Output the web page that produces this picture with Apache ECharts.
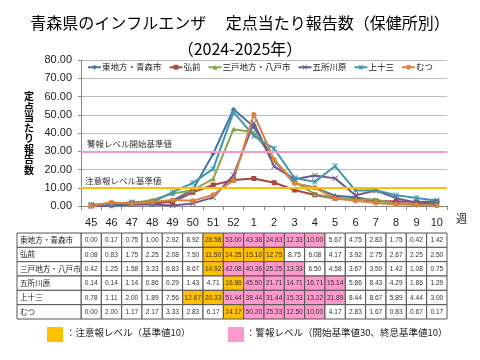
<!DOCTYPE html>
<html><head><meta charset="utf-8">
<script src="https://cdn.jsdelivr.net/npm/echarts@6/dist/echarts.min.js"></script>
<style>html,body{margin:0;padding:0;background:#fff}#c{width:480px;height:360px}</style>
</head><body><div id="c"></div>
<script>
const weeks = ['45','46','47','48','49','50','51','52','1','2','3','4','5','6','7','8','9','10'];
const names = ['東地方・青森市','弘前','三戸地方・八戸市','五所川原','上十三','むつ'];
const higashi = [0.00,0.17,0.75,1.00,2.92,8.92,28.58,53.00,43.38,24.83,12.33,10.00,5.67,4.75,2.83,1.75,0.42,1.42];
const hirosaki = [0.08,0.83,1.75,2.25,2.08,7.50,11.50,14.25,15.10,12.75,8.75,6.08,4.17,3.92,2.75,2.67,2.25,2.50];
const sannohe = [0.42,1.25,1.58,3.33,6.83,8.67,14.92,42.08,40.36,25.25,13.33,6.50,4.58,3.67,3.50,1.42,1.08,0.75];
const goshogawara = [0.14,0.14,1.14,0.86,0.29,1.43,4.71,16.86,45.50,21.71,14.71,16.71,15.14,5.86,8.43,4.29,1.86,1.29];
const kamitosan = [0.78,1.11,2.00,1.89,7.56,12.67,20.33,51.44,38.44,31.44,15.33,13.22,21.89,8.44,8.67,5.89,4.44,3.00];
const mutsu = [0.00,2.00,1.17,2.17,3.33,2.83,6.17,14.17,50.20,25.33,12.50,10.00,4.17,2.83,1.67,0.83,0.67,0.17];
const alarmStart = 30, alarmEnd = 10, caution = 10;

const seriesData = [higashi, hirosaki, sannohe, goshogawara, kamitosan, mutsu];
const colors = ['#4572A7','#AA4643','#89A54E','#71588F','#4198AF','#DB843D'];
const symbols = ['diamond','rect','triangle',
  'path://M1,0L5,4L9,0L10,1L6,5L10,9L9,10L5,6L1,10L0,9L4,5L0,1Z',
  'path://M1,0L5,4L9,0L10,1L6,5L10,9L9,10L5,6L1,10L0,9L4,5L0,1ZM4.4,0H5.6V10H4.4Z',
  'circle'];
const ORANGE = '#FFC000', PINK = '#FF99CC';

// status per cell: 0 none, 1 caution, 2 alarm
function statusOf(arr){
  let alarm = false;
  return arr.map(v => {
    if (!alarm && v >= alarmStart) alarm = true;
    else if (alarm && v < alarmEnd) alarm = false;
    if (alarm) return 2;
    return v >= caution ? 1 : 0;
  });
}
const tableData = [];
seriesData.forEach((arr, r) => {
  const st = statusOf(arr);
  arr.forEach((v, c) => tableData.push([c, r, v, st[c]]));
});

const headerW = 64;
const chart = echarts.init(document.getElementById('c'));
const lineSeries = names.map((n, i) => ({
  name: n, type: 'line', xAxisIndex: 0, yAxisIndex: 0,
  data: seriesData[i], symbol: symbols[i], symbolSize: i===3||i===4 ? 6 : 5,
  lineStyle: {color: colors[i], width: 2}, itemStyle: {color: colors[i]},
  z: 3, animation: false
}));
lineSeries[0].markLine = {
  silent: true, symbol: 'none', animation: false,
  data: [
    {yAxis: alarmStart, lineStyle: {color: '#F49AC8', width: 2, type: 'solid'},
     label: {show: true, position: 'insideStartTop', formatter: '警報レベル開始基準値', color: '#333', fontSize: 8.5, fontFamily: 'Noto Sans CJK JP', distance: [6, 3]}},
    {yAxis: caution, lineStyle: {color: '#FFC000', width: 2, type: 'solid'},
     label: {show: true, position: 'insideStartTop', formatter: '注意報レベル基準値', color: '#333', fontSize: 8.5, fontFamily: 'Noto Sans CJK JP', distance: [4, 3]}}
  ]
};

chart.setOption({
  animation: false,
  textStyle: {fontFamily: 'Liberation Sans, Arial, sans-serif'},
  title: [
    {text: '青森県のインフルエンザ　 定点当たり報告数（保健所別）', left: 'center', top: 10,
     textStyle: {fontSize: 16, fontWeight: 'normal', color: '#000', fontFamily: 'Noto Sans CJK JP'}},
    {text: '（2024-2025年）', left: 'center', top: 36,
     textStyle: {fontSize: 16, fontWeight: 'normal', color: '#000', fontFamily: 'Noto Sans CJK JP'}}
  ],
  legend: {
    top: 63, left: 87, padding: 0, itemWidth: 13, itemHeight: 6, itemGap: 7,
    textStyle: {fontSize: 8.5, color: '#222', fontFamily: 'Noto Sans CJK JP', padding: [0,0,0,-4]},
    data: names
  },
  grid: [
    {left: 81, top: 60, width: 366, height: 146},
    {left: 81, top: 233, width: 366, height: 86}
  ],
  xAxis: [
    {type: 'category', gridIndex: 0, data: weeks, boundaryGap: true,
     axisLine: {lineStyle: {color: '#888'}}, axisTick: {show: true, lineStyle: {color: '#888'}, length: 4},
     axisLabel: {fontSize: 11, color: '#222', margin: 11, interval: 0}},
    {type: 'category', gridIndex: 1, data: weeks, show: false}
  ],
  yAxis: [
    {type: 'value', gridIndex: 0, min: 0, max: 80, interval: 10,
     name: '定\n点\n当\nた\nり\n報\n告\n数', nameLocation: 'middle', nameGap: 47, nameRotate: 0,
     nameTextStyle: {fontSize: 10, fontWeight: 'bold', color: '#000', lineHeight: 10.5, fontFamily: 'Noto Sans CJK JP'},
     axisLine: {show: true, lineStyle: {color: '#888'}}, axisTick: {show: true, lineStyle: {color: '#888'}, length: 3},
     axisLabel: {fontSize: 11, color: '#222', margin: 9, formatter: v => v.toFixed(2)},
     splitLine: {lineStyle: {color: '#BDBDBD'}}},
    {type: 'category', gridIndex: 1, data: names, inverse: true, show: false}
  ],
  graphic: [
    {type: 'text', left: 456, top: 213, style: {text: '週', fontSize: 11, fill: '#222', fontFamily: 'Noto Sans CJK JP'}},
    {type: 'rect', left: 47, top: 327, shape: {width: 16, height: 15}, style: {fill: ORANGE}},
    {type: 'text', left: 66, top: 328, style: {text: '：注意報レベル（基準値10）', fontSize: 9.5, fill: '#222', fontFamily: 'Noto Sans CJK JP'}},
    {type: 'rect', left: 228, top: 327, shape: {width: 16, height: 15}, style: {fill: PINK}},
    {type: 'text', left: 246, top: 328, style: {text: '：警報レベル（開始基準値30、終息基準値10）', fontSize: 9.5, fill: '#222', fontFamily: 'Noto Sans CJK JP'}}
  ],
  series: lineSeries.concat([{
    type: 'custom', xAxisIndex: 1, yAxisIndex: 1, data: tableData, animation: false, silent: true,
    renderItem: function(params, api){
      const xi = api.value(0), yi = api.value(1), v = api.value(2), st = api.value(3);
      const c = api.coord([xi, yi]);
      const s = api.size([1, 1]);
      const x0 = c[0] - s[0]/2, y0 = c[1] - s[1]/2;
      const fill = st === 2 ? PINK : st === 1 ? ORANGE : '#fff';
      const ch = [
        {type: 'rect', shape: {x: x0, y: y0, width: s[0], height: s[1]}, style: {fill: fill, stroke: '#555', lineWidth: 1}},
        {type: 'text', style: {text: v.toFixed(2), x: c[0], y: c[1] + 0.5, align: 'center', verticalAlign: 'middle', fontSize: 6.6, fill: '#333', fontFamily: 'Liberation Sans'}}
      ];
      if (xi === 0) {
        ch.push({type: 'rect', shape: {x: x0 - headerW, y: y0, width: headerW, height: s[1]}, style: {fill: '#fff', stroke: '#555', lineWidth: 1}});
        ch.push({type: 'text', style: {text: names[yi], x: x0 - headerW + 3, y: c[1], align: 'left', verticalAlign: 'middle', fontSize: 7.6, fill: '#222', fontFamily: 'Noto Sans CJK JP'}});
      }
      return {type: 'group', children: ch};
    }
  }])
});
</script></body></html>
